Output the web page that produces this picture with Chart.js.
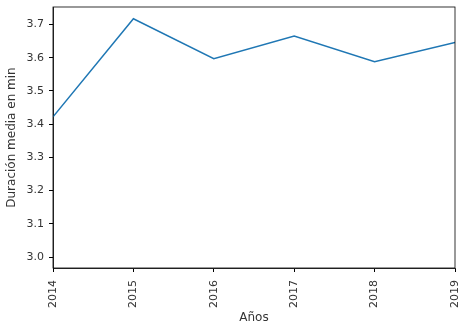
<!DOCTYPE html>
<html>
<head>
<meta charset="utf-8">
<script src="https://cdn.jsdelivr.net/npm/chart.js@4/dist/chart.umd.min.js"></script>
<style>
  html, body { margin: 0; padding: 0; background: #fff; }
  #wrap { width: 463px; height: 327px; }
</style>
</head>
<body>
<div id="wrap"><canvas id="lineChart"></canvas></div>
<script>
// data
const years = [2014, 2015, 2016, 2017, 2018, 2019];
const avgMinutes = [3.422, 3.717, 3.597, 3.665, 3.588, 3.646];
const yTicks = [3.0, 3.1, 3.2, 3.3, 3.4, 3.5, 3.6, 3.7];

const TICK_FONT = { family: 'DejaVu Sans', size: 11 };
const TITLE_FONT = { family: 'DejaVu Sans', size: 12 };
const TEXT = '#333';

// matplotlib draws all four spines
const boxPlugin = {
    id: 'box',
    afterDraw(chart) {
        const a = chart.chartArea;
        const c = chart.ctx;
        c.save();
        c.strokeStyle = '#000';
        c.lineWidth = 0.8;
        c.strokeRect(a.left, a.top, a.right - a.left, a.bottom - a.top);
        c.restore();
    }
};

new Chart(document.getElementById('lineChart'), {
    type: 'line',
    data: {
        datasets: [{
            data: years.map((y, i) => ({ x: y, y: avgMinutes[i] })),
            borderColor: '#1f77b4',
            borderWidth: 1.5,
            pointRadius: 0,
            tension: 0,
            fill: false
        }]
    },
    options: {
        responsive: true,
        maintainAspectRatio: false,
        animation: false,
        layout: { padding: { top: 7, right: 8 } },
        plugins: { legend: { display: false }, tooltip: { enabled: false } },
        scales: {
            x: {
                type: 'linear',
                min: 2014,
                max: 2019,
                afterBuildTicks: s => { s.ticks = years.map(v => ({ value: v })); },
                afterFit: s => { s.height = 59; s.paddingLeft = 0; s.paddingRight = 0; },
                grid: { drawOnChartArea: false, tickLength: 4, color: '#000' },
                border: { color: '#000', width: 0.8 },
                ticks: {
                    font: TICK_FONT, color: TEXT, padding: 8,
                    minRotation: 90, maxRotation: 90,
                    callback: v => String(v)
                },
                title: { display: true, text: 'Años', font: TITLE_FONT, color: TEXT, padding: { top: 0, bottom: 2 } }
            },
            y: {
                min: 2.967,
                max: 3.7525,
                afterBuildTicks: s => { s.ticks = yTicks.map(v => ({ value: v })); },
                afterFit: s => { s.width = 53; s.paddingTop = 0; s.paddingBottom = 0; },
                grid: { drawOnChartArea: false, tickLength: 4, color: '#000' },
                border: { color: '#000', width: 0.8 },
                ticks: { font: TICK_FONT, color: TEXT, padding: 5, callback: v => Number(v).toFixed(1) },
                title: { display: true, text: 'Duración media en min', font: TITLE_FONT, color: TEXT, padding: { top: 5, bottom: 0 } }
            }
        }
    },
    plugins: [boxPlugin]
});
</script>
</body>
</html>
